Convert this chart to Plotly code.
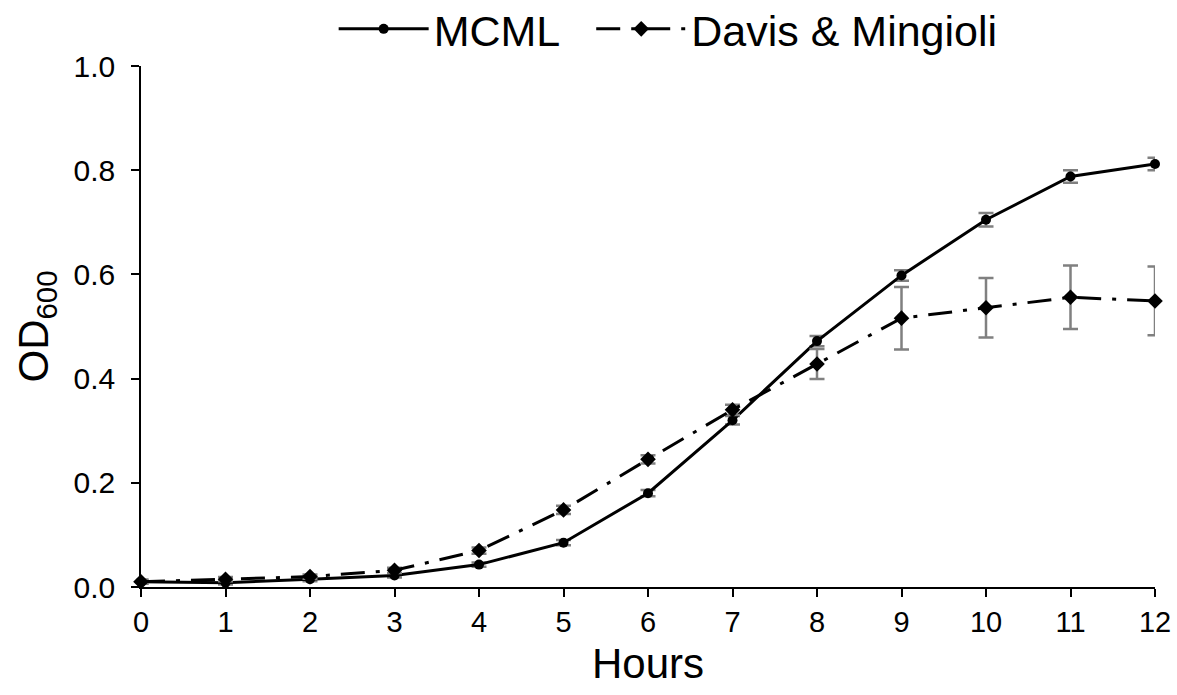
import plotly.graph_objects as go

hours = [0, 1, 2, 3, 4, 5, 6, 7, 8, 9, 10, 11, 12]
mcml = [0.010, 0.008, 0.015, 0.022, 0.043, 0.085, 0.180, 0.320, 0.472, 0.598, 0.705, 0.788, 0.812]
mcml_err = [0.004, 0.003, 0.004, 0.004, 0.004, 0.005, 0.006, 0.008, 0.010, 0.010, 0.013, 0.012, 0.012]
davis = [0.010, 0.015, 0.020, 0.032, 0.070, 0.148, 0.245, 0.340, 0.428, 0.516, 0.536, 0.556, 0.549]
davis_err = [0.004, 0.004, 0.004, 0.005, 0.006, 0.008, 0.008, 0.010, 0.029, 0.060, 0.057, 0.061, 0.066]
x_ticks = [0, 1, 2, 3, 4, 5, 6, 7, 8, 9, 10, 11, 12]
y_ticks = [0.0, 0.2, 0.4, 0.6, 0.8, 1.0]
y_tick_text = ["0.0", "0.2", "0.4", "0.6", "0.8", "1.0"]

FONT = "Liberation Sans, Arial, sans-serif"

fig = go.Figure()
fig.add_trace(go.Scatter(
    x=hours, y=mcml, name="MCML", mode="lines+markers", legend="legend",
    line=dict(color="black", width=3),
    marker=dict(symbol="circle", size=10, color="black"),
    error_y=dict(type="data", array=mcml_err, color="#808080", thickness=2.5, width=7.5),
    cliponaxis=False,
))
fig.add_trace(go.Scatter(
    x=hours, y=davis, name="Davis & Mingioli", mode="lines+markers", legend="legend2",
    line=dict(color="black", width=3, dash="24px,11px,4px,11px"),
    marker=dict(symbol="diamond", size=12, color="black"),
    error_y=dict(type="data", array=davis_err, color="#808080", thickness=2.5, width=7.5),
    cliponaxis=False,
))

legend_common = dict(orientation="h", y=1.005, yanchor="bottom", xanchor="left",
                     font=dict(size=43, family=FONT), itemwidth=90,
                     bgcolor="rgba(0,0,0,0)")

fig.update_layout(
    width=1177, height=695,
    paper_bgcolor="white", plot_bgcolor="white",
    font=dict(family=FONT, color="black", size=30),
    margin=dict(l=141, r=22, t=66, b=108, autoexpand=False),
    showlegend=True,
    legend=dict(x=0.19, **legend_common),
    legend2=dict(x=0.444, **legend_common),
    xaxis=dict(range=[0, 12], tickvals=x_ticks, ticktext=[str(t) for t in x_ticks],
               showgrid=False, zeroline=False, showline=True, linecolor="black", linewidth=1.5,
               ticks="outside", ticklen=8, tickcolor="black", tickwidth=1.5,
               tickfont=dict(size=29), ticklabelstandoff=0,
               title=dict(text="Hours", font=dict(size=42), standoff=12)),
    yaxis=dict(range=[0, 1.0], tickvals=y_ticks, ticktext=y_tick_text,
               showgrid=False, zeroline=False, showline=True, linecolor="black", linewidth=1.5,
               ticks="outside", ticklen=8, tickcolor="black", tickwidth=1.5,
               tickfont=dict(size=30), ticklabelstandoff=10,
               title=dict(text="OD<sub>600</sub>", font=dict(size=42), standoff=12)),
)

fig.write_html("out.html", config={"displayModeBar": False},
               post_script="document.body.style.margin='0';")
